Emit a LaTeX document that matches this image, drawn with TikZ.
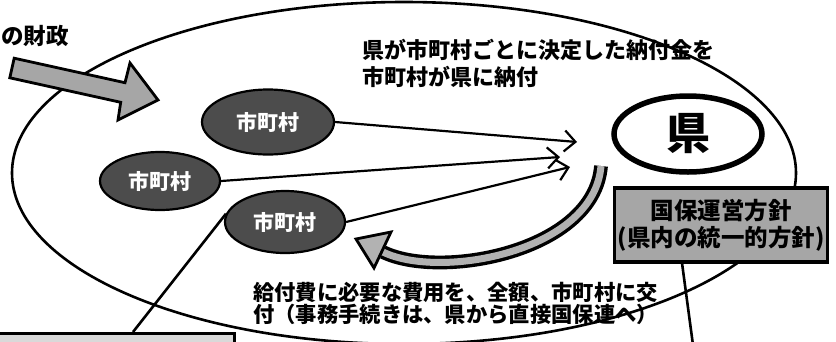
\documentclass[tikz,border=0pt]{standalone}
\usepackage{fontspec}
\setmainfont{Noto Sans CJK JP}
\usetikzlibrary{arrows.meta,calc,shapes.geometric}
\begin{document}
\begin{tikzpicture}[x=1pt,y=-1pt,
  jtext/.style={inner sep=0pt, align=left},
  muni/.style={ellipse, draw, line width=2.2pt, fill=black!70, minimum width=124pt, minimum height=60pt,
    inner sep=0pt, text=white, font=\fontsize{21}{22}\selectfont\bfseries},
  conn/.style={line width=2.2pt, -{Straight Barb[length=11pt,width=21pt,line width=2.2pt]}},
  plain/.style={line width=2.6pt},
]
\useasboundingbox (0,0) rectangle (836,341);
% large region
\draw[line width=2.6pt] (404,173) ellipse [x radius=392, y radius=171];
% heading
\node[jtext, font=\fontsize{22.5}{26}\selectfont\bfseries, anchor=west] (head) at (1,36) {の財政};
% big incoming arrow
\draw[line width=2.8pt, fill=black!35, line join=miter]
  (14.2,58.2) -- (125,82.7) -- (130,63) -- (158,100) -- (118,120) -- (120.7,102.3) -- (9.8,77.8) -- cycle;
% texts
\node[jtext, font=\fontsize{22}{27}\selectfont\bfseries, anchor=north west] (top) at (362,39)
  {県が市町村ごとに決定した納付金を\\市町村が県に納付};
\node[jtext, font=\fontsize{21.3}{22}\selectfont\bfseries, anchor=north west] (bot) at (253,282)
  {給付費に必要な費用を、全額、市町村に交\\付（事務手続きは、県から直接国保連へ）};
% municipalities
\node[muni, minimum width=132pt, minimum height=65pt] (m1) at (268,122) {市町村};
\node[muni, minimum width=120pt, minimum height=58pt] (m2) at (160,181) {市町村};
\node[muni, minimum width=120pt, minimum height=62pt] (m3) at (285,222) {市町村};
% prefecture
\node[ellipse, draw, line width=5.5pt, fill=white, minimum width=148pt, minimum height=76pt,
  font=\fontsize{44}{46}\selectfont\bfseries] (ken) at (688,134) {県};
% arrows to prefecture
\coordinate (t1) at (577,142);
\coordinate (t2) at (560,157);
\coordinate (t3) at (570,167);
\draw[conn] (m1.east) -- (t1);
\draw[conn] (m2.east) -- (t2);
\draw[conn] (m3.east) -- (t3);
% curved return arrow
\draw[line width=3.4pt, double=black!30, double distance=7pt]
  (601,166) .. controls (594,252) and (440,280) .. (383,252);
\draw[line width=2.8pt, fill=black!30, line join=miter]
  (391,232) -- (356,239) -- (374,268) -- cycle;
% policy box
\node[draw, line width=3.2pt, fill=black!35, minimum width=213pt, minimum height=74pt, inner sep=0pt,
  align=center, font=\fontsize{23.5}{27}\selectfont\bfseries] (kb) at (721,225)
  {国保運営方針\\(県内の統一的方針)};
\coordinate (kbd) at ($(kb.south west)!0.32!(kb.south east)$);
\coordinate (kbe) at (693,345);
\draw[plain] (kbd) -- (kbe);
% bottom-left box
\node[draw, line width=2.8pt, fill=black!15, anchor=north west, minimum width=236pt, minimum height=30pt,
  inner sep=0pt] (bl) at (-3,332) {};
\coordinate (blp) at (133,332);
\draw[plain] (m3.172) -- (blp);
\end{tikzpicture}
\end{document}
